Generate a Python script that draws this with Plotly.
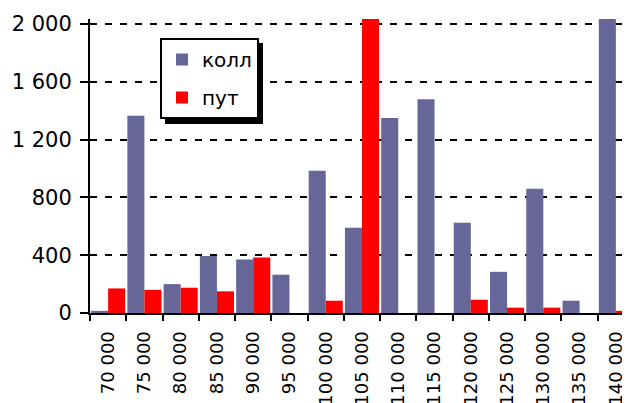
"""Объём открытых позиций по страйкам: колл и пут."""

import plotly.graph_objects as go

strikes = ["70 000", "75 000", "80 000", "85 000", "90 000", "95 000", "100 000",
           "105 000", "110 000", "115 000", "120 000", "125 000", "130 000",
           "135 000", "140 000"]
# значения выше 2 000 срезаны краем графика
call_oi = [15, 1365, 200, 395, 370, 265, 985, 590, 1350, 1480, 625, 285, 860, 85, 2150]
put_oi = [170, 160, 175, 150, 385, 0, 85, 2150, 0, 0, 92, 37, 37, 0, 15]
y_ticks = [0, 400, 800, 1200, 1600, 2000]

# страница сдвигает график на 8 px (отступ body), поэтому сам график меньше окна
OFF = 8
W, H = 630 - OFF, 403 - OFF
L, R, T, B = 90 - OFF, 0, 19 - OFF, 90

FONT = "Tahoma, DejaVu Sans, sans-serif"


def px_x(px):
    # пиксель окна -> доля paper
    return (px - OFF - L) / (W - L - R)


def px_y(py):
    return (H - B - (py - OFF)) / (H - T - B)


fig = go.Figure()
fig.add_trace(go.Bar(x=strikes, y=call_oi, name="колл", marker_color="#666699",
                     marker_line_width=0, legendgroup="c"))
fig.add_trace(go.Bar(x=strikes, y=put_oi, name="пут", marker_color="#FF0000",
                     marker_line_width=0, legendgroup="p"))

# тень под легендой
fig.add_shape(type="rect", xref="paper", yref="paper",
              x0=px_x(165), x1=px_x(263), y0=px_y(124), y1=px_y(43),
              fillcolor="black", line_width=0, layer="above")

fig.update_layout(
    width=W, height=H,
    margin=dict(l=L, r=R, t=T, b=B, pad=0, autoexpand=False),
    paper_bgcolor="white", plot_bgcolor="white",
    font=dict(family=FONT, size=21, color="black"),
    separators=", ",
    barmode="group", bargap=0.06, bargroupgap=0,
    legend=dict(x=px_x(160), y=px_y(38), xanchor="left", yanchor="top",
                bgcolor="white", bordercolor="black", borderwidth=2,
                font=dict(size=20), tracegroupgap=9, traceorder="grouped"),
    xaxis=dict(type="category", range=[-0.5, 14.39], tickson="boundaries",
               ticks="outside", ticklen=6, tickwidth=2, tickcolor="black",
               ticklabelstandoff=9,
               showline=True, linecolor="black", linewidth=2, automargin=False,
               tickangle=-90, tickfont=dict(size=18), showgrid=False),
    yaxis=dict(range=[0, 2035], tickvals=y_ticks, tickformat=",d",
               ticks="outside", ticklen=8, tickwidth=2, tickcolor="black",
               ticklabelstandoff=4, automargin=False,
               showline=True, linecolor="black", linewidth=2,
               showgrid=True, gridcolor="black", gridwidth=2, griddash="7px,8px",
               zeroline=False),
)

fig.write_html("out.html")
